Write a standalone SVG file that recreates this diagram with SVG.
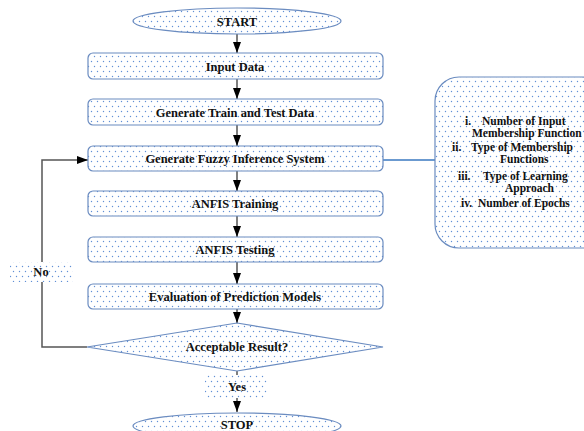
<svg xmlns="http://www.w3.org/2000/svg" width="584" height="431" viewBox="0 0 584 431">
<defs>
<pattern id="dots" width="6" height="10" patternUnits="userSpaceOnUse">
<rect width="6" height="10" fill="#ffffff"/>
<circle cx="1.5" cy="1.5" r="0.7" fill="#5f8fd6"/>
<circle cx="4.5" cy="6.5" r="0.7" fill="#5f8fd6"/>
</pattern>
<marker id="arr" markerWidth="11" markerHeight="8" refX="11" refY="4" orient="auto" markerUnits="userSpaceOnUse">
<path d="M0,0 L11,4 L0,8 Z" fill="#000"/>
</marker>
</defs>
<style>
.box{fill:url(#dots);stroke:#6b8cc0;stroke-width:1.2}
.lbl{fill:url(#dots);stroke:none}
.t{font-family:"Liberation Serif","Times New Roman",serif;font-weight:bold;font-size:12.5px;fill:#111;text-anchor:middle}
.s{font-family:"Liberation Serif","Times New Roman",serif;font-weight:bold;font-size:11.5px;fill:#111;text-anchor:start}
.c{stroke:#555;stroke-width:1.5;fill:none}
</style>
<g id="connectors">
<line class="c" x1="237" y1="33" x2="237" y2="53" marker-end="url(#arr)"/>
<line class="c" x1="237" y1="79" x2="237" y2="99" marker-end="url(#arr)"/>
<line class="c" x1="237" y1="125" x2="237" y2="146" marker-end="url(#arr)"/>
<line class="c" x1="237" y1="171" x2="237" y2="191" marker-end="url(#arr)"/>
<line class="c" x1="237" y1="216" x2="237" y2="237" marker-end="url(#arr)"/>
<line class="c" x1="237" y1="262" x2="237" y2="284" marker-end="url(#arr)"/>
<line class="c" x1="237" y1="309" x2="237" y2="323" marker-end="url(#arr)"/>
<line class="c" x1="237" y1="371" x2="237" y2="412" marker-end="url(#arr)"/>
<polyline class="c" points="87,347 42,347 42,160 88,160" marker-end="url(#arr)"/>
<line x1="383" y1="160" x2="435" y2="160" stroke="#6b9ad0" stroke-width="2"/>
</g>
<g id="start">
<ellipse class="box" cx="237" cy="21" rx="104" ry="13"/>
<text class="t" x="237" y="25.5">START</text>
</g>
<g id="input-data">
<rect class="box" x="88" y="53" width="295" height="26" rx="5"/>
<text class="t" x="235" y="70.5">Input Data</text>
</g>
<g id="generate-train-test">
<rect class="box" x="88" y="99" width="295" height="26" rx="5"/>
<text class="t" x="235" y="116.5">Generate Train and Test Data</text>
</g>
<g id="generate-fis">
<rect class="box" x="88" y="146" width="295" height="25" rx="5"/>
<text class="t" x="235" y="162.5">Generate Fuzzy Inference System</text>
</g>
<g id="anfis-training">
<rect class="box" x="88" y="191" width="295" height="25" rx="5"/>
<text class="t" x="235" y="208">ANFIS Training</text>
</g>
<g id="anfis-testing">
<rect class="box" x="88" y="237" width="295" height="25" rx="5"/>
<text class="t" x="235" y="254">ANFIS Testing</text>
</g>
<g id="evaluation">
<rect class="box" x="88" y="284" width="295" height="25" rx="5"/>
<text class="t" x="235" y="300.5">Evaluation of Prediction Models</text>
</g>
<g id="decision">
<polygon class="box" points="237,323 383,347 237,371 87,347"/>
<text class="t" x="237" y="351">Acceptable Result?</text>
</g>
<g id="yes-label">
<rect class="lbl" x="205" y="375" width="62" height="23"/>
<text class="t" x="237" y="391">Yes</text>
</g>
<g id="no-label">
<rect class="lbl" x="10" y="262" width="63" height="20"/>
<text class="t" x="41" y="276">No</text>
</g>
<g id="stop">
<ellipse class="box" cx="237" cy="426" rx="104" ry="13"/>
<text class="t" x="237" y="429">STOP</text>
</g>
<g id="parameters">
<rect class="box" x="435" y="77" width="170" height="171" rx="24"/>
<text class="s" x="465" y="125">i.</text><text class="s" x="482" y="125">Number of Input</text>
<text class="s" x="472" y="137">Membership Function</text>
<text class="s" x="452" y="151">ii.</text><text class="s" x="471" y="151">Type of Membership</text>
<text class="s" x="500" y="163">Functions</text>
<text class="s" x="458" y="180">iii.</text><text class="s" x="483" y="180">Type of Learning</text>
<text class="s" x="505" y="192">Approach</text>
<text class="s" x="461" y="207">iv.</text><text class="s" x="478" y="207">Number of Epochs</text>
</g>
</svg>
